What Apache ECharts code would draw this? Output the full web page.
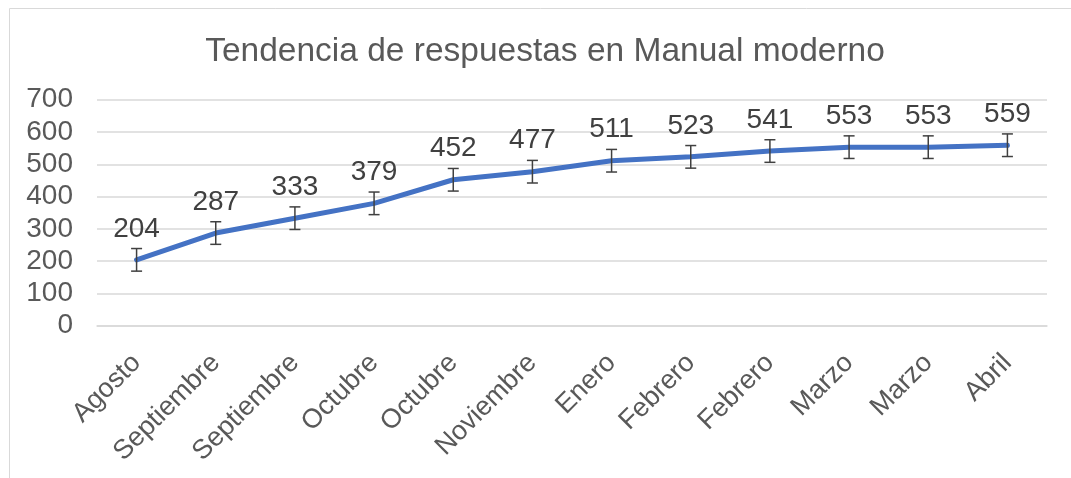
<!DOCTYPE html>
<html>
<head>
<meta charset="utf-8">
<script src="https://cdn.jsdelivr.net/npm/echarts@6/dist/echarts.min.js"></script>
<style>
  html, body { margin: 0; padding: 0; background: #fff; }
  #trend_chart { width: 1071px; height: 478px; }
</style>
</head>
<body>
<div id="trend_chart"></div>
<script>
var months = ["Agosto", "Septiembre", "Septiembre", "Octubre", "Octubre", "Noviembre",
  "Enero", "Febrero", "Febrero", "Marzo", "Marzo", "Abril"];
var respuestas = [204, 287, 333, 379, 452, 477, 511, 523, 541, 553, 553, 559];
var errores = [35, 35, 35, 35, 35, 35, 35, 35, 35, 35, 35, 35];

var font = "Liberation Sans, Arial, sans-serif";
var errData = respuestas.map(function (v, i) {
  return [i, v - errores[i], v + errores[i]];
});

var trend_chart = echarts.init(document.getElementById("trend_chart"));
var option = {
  animation: false,
  title: {
    text: "Tendencia de respuestas en Manual moderno",
    left: 540,
    top: 30,
    textAlign: "center",
    textStyle: { color: "#595959", fontSize: 33.5, fontWeight: "normal", fontFamily: font },
  },
  graphic: [
    {
      type: "rect",
      shape: { x: 9.5, y: 8.5, width: 1100, height: 500 },
      style: { fill: "none", stroke: "#d9d9d9", lineWidth: 1 },
      silent: true,
    },
  ],
  grid: { left: 97, right: 24, top: 99.7, bottom: 152.3 },
  xAxis: {
    type: "category",
    data: months,
    axisLine: { show: true, lineStyle: { color: "#d9d9d9", width: 1.5 } },
    axisTick: { show: false },
    axisLabel: {
      rotate: 45,
      margin: 33,
      interval: 0,
      color: "#595959",
      fontSize: 27,
      fontFamily: font,
    },
  },
  yAxis: {
    type: "value",
    min: 0,
    max: 700,
    interval: 100,
    axisLine: { show: false },
    axisTick: { show: false },
    axisLabel: { color: "#595959", fontSize: 28, fontFamily: font, margin: 24 },
    splitLine: { lineStyle: { color: "#d9d9d9", width: 1.5 } },
  },
  series: [
    {
      name: "Respuestas",
      type: "line",
      data: respuestas,
      symbol: "circle",
      symbolSize: 2,
      showSymbol: true,
      itemStyle: { color: "rgba(68,114,196,0)", borderWidth: 0 },
      lineStyle: { color: "#4472C4", width: 5, cap: "round" },
      label: {
        show: true,
        position: "top",
        distance: 16,
        color: "#404040",
        fontSize: 28,
        fontFamily: font,
      },
      z: 3,
    },
    {
      name: "Error",
      type: "custom",
      data: errData,
      encode: { x: 0, y: [1, 2] },
      z: 4,
      renderItem: function (params, api) {
        var lo = api.coord([api.value(0), api.value(1)]);
        var hi = api.coord([api.value(0), api.value(2)]);
        var half = 5.5;
        var style = { stroke: "#404040", lineWidth: 1.5 };
        return {
          type: "group",
          children: [
            { type: "line", shape: { x1: lo[0], y1: lo[1], x2: hi[0], y2: hi[1] }, style: style },
            { type: "line", shape: { x1: lo[0] - half, y1: lo[1], x2: lo[0] + half, y2: lo[1] }, style: style },
            { type: "line", shape: { x1: hi[0] - half, y1: hi[1], x2: hi[0] + half, y2: hi[1] }, style: style },
          ],
        };
      },
    },
  ],
};
trend_chart.setOption(option);
</script>
</body>
</html>
